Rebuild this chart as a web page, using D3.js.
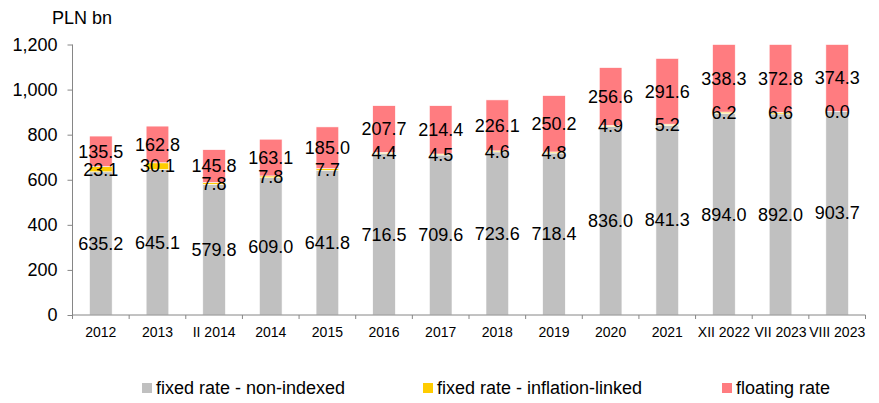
<!DOCTYPE html>
<html>
<head>
<meta charset="utf-8">
<script src="https://cdn.jsdelivr.net/npm/d3@7"></script>
<style>
  body { margin: 0; background: #fff; }
  text { font-family: Arial, "Liberation Sans", sans-serif; fill: #000; }
</style>
</head>
<body>
<svg width="879" height="403"></svg>
<script>
var categories = ["2012", "2013", "II 2014", "2014", "2015", "2016", "2017", "2018", "2019", "2020", "2021", "XII 2022", "VII 2023", "VIII 2023"];
var fixedNonIndexed = [635.2, 645.1, 579.8, 609.0, 641.8, 716.5, 709.6, 723.6, 718.4, 836.0, 841.3, 894.0, 892.0, 903.7];
var inflationLinked = [23.1, 30.1, 7.8, 7.8, 7.7, 4.4, 4.5, 4.6, 4.8, 4.9, 5.2, 6.2, 6.6, 0.0];
var floating = [135.5, 162.8, 145.8, 163.1, 185.0, 207.7, 214.4, 226.1, 250.2, 256.6, 291.6, 338.3, 372.8, 374.3];
var seriesNames = ["fixed rate - non-indexed", "fixed rate - inflation-linked", "floating rate"];
var seriesColors = ["#c0c0c0", "#ffcc00", "#ff7c80"];
var yTicks = [0, 200, 400, 600, 800, 1000, 1200];

var svg = d3.select("svg");
var plotL = 72.5, plotR = 865.5, plotT = 44.5, plotB = 315;

var rows = categories.map(function (c, i) {
  return { cat: c, s0: fixedNonIndexed[i], s1: inflationLinked[i], s2: floating[i] };
});
var stack = d3.stack().keys(["s0", "s1", "s2"])(rows);

var x = d3.scaleBand().domain(categories).range([plotL, plotR]).paddingInner(0).paddingOuter(0);
var y = d3.scaleLinear().domain([0, 1200]).range([plotB, plotT]).clamp(true);
var bw = x.bandwidth() * 0.4;

// bars
var layers = svg.append("g").selectAll("g")
  .data(stack).enter().append("g")
  .attr("fill", function (d, i) { return seriesColors[i]; });

layers.selectAll("rect")
  .data(function (d) { return d; })
  .enter().append("rect")
  .attr("x", function (d) { return x(d.data.cat) + (x.bandwidth() - bw) / 2; })
  .attr("width", bw)
  .attr("y", function (d) { return y(d[1]); })
  .attr("height", function (d) { return y(d[0]) - y(d[1]); })
  .attr("stroke", "#fff")
  .attr("stroke-width", 0.6);

// value labels
var labels = svg.append("g");
stack.forEach(function (layer, i) {
  labels.selectAll(null)
    .data(layer).enter().append("text")
    .attr("x", function (d) { return x(d.data.cat) + x.bandwidth() / 2; })
    .attr("y", function (d) { return (y(d[0]) + y(d[1])) / 2; })
    .attr("dy", "0.35em")
    .attr("text-anchor", "middle")
    .style("font-size", "18px")
    .text(function (d) { return (d[1] - d[0]).toFixed(1); });
});

// y axis
var yAxis = svg.append("g")
  .attr("transform", "translate(" + plotL + ",0)")
  .call(d3.axisLeft(y).tickValues(yTicks).tickSize(5).tickPadding(10).tickFormat(d3.format(",")));
yAxis.selectAll("text").style("font-size", "18px").attr("fill", "#000");
yAxis.selectAll("line,path").attr("stroke", "#868686");
yAxis.select(".domain").attr("d", "M0," + plotT + "V" + plotB);

// x axis
var xAxis = svg.append("g")
  .attr("transform", "translate(0," + plotB + ")")
  .call(d3.axisBottom(x).tickSize(0).tickPadding(12));
xAxis.selectAll("text").style("font-size", "14px").attr("fill", "#000");
xAxis.select(".domain").attr("stroke", "#868686").attr("d", "M" + plotL + ",0H" + plotR);
xAxis.selectAll(null)
  .data(categories.concat([null])).enter().append("line")
  .attr("x1", function (d, i) { return plotL + i * x.bandwidth(); })
  .attr("x2", function (d, i) { return plotL + i * x.bandwidth(); })
  .attr("y1", 0).attr("y2", 4)
  .attr("stroke", "#868686");

// unit label
svg.append("text").attr("x", 52).attr("y", 24)
  .style("font-size", "18px").text("PLN bn");

// legend
var legendX = [142, 423, 722];
var legend = svg.append("g").selectAll("g")
  .data(seriesNames).enter().append("g")
  .attr("transform", function (d, i) { return "translate(" + legendX[i] + ",388)"; });
legend.append("rect")
  .attr("x", 0).attr("y", -5).attr("width", 10).attr("height", 10)
  .attr("fill", function (d, i) { return seriesColors[i]; });
legend.append("text")
  .attr("x", 14).attr("dy", "0.35em")
  .style("font-size", "18px")
  .text(function (d) { return d; });
</script>
</body>
</html>
